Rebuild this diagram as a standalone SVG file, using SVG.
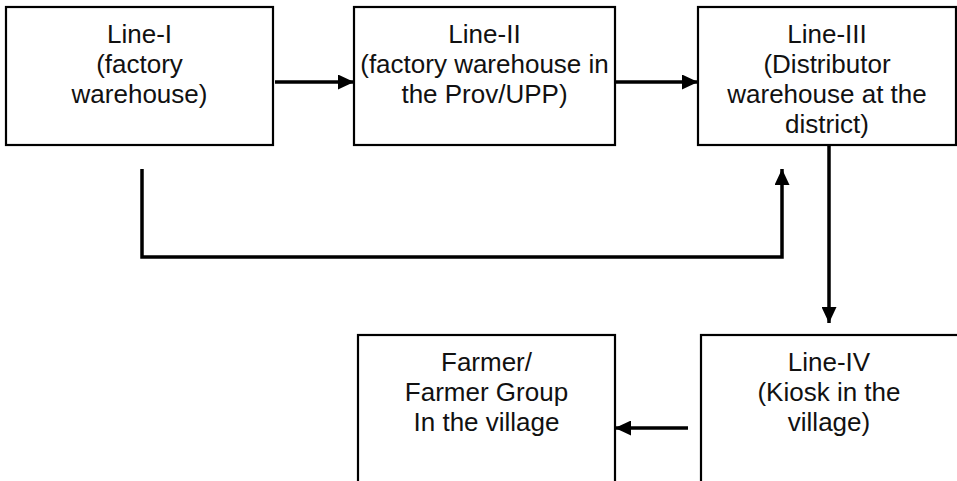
<svg xmlns="http://www.w3.org/2000/svg" width="957" height="481" viewBox="0 0 957 481">
<style>
.box{fill:#fff;stroke:#000;stroke-width:2.2}
.t{font-family:"Liberation Sans",Arial,sans-serif;font-size:26px;fill:#111;text-anchor:middle}
.c{fill:none;stroke:#000;stroke-width:3.5}
</style>
<defs>
<marker id="ah" markerUnits="userSpaceOnUse" markerWidth="16" markerHeight="15" refX="16" refY="7.5" orient="auto">
<path d="M0,0 L16,7.5 L0,15 z" fill="#000"/>
</marker>
</defs>
<rect width="957" height="481" fill="#fff"/>
<g id="connectors">
<line class="c" x1="275" y1="82" x2="354" y2="82" marker-end="url(#ah)"/>
<line class="c" x1="615" y1="82" x2="698" y2="82" marker-end="url(#ah)"/>
<polyline class="c" points="142,169 142,257 782,257 782,169" marker-end="url(#ah)"/>
<line class="c" x1="829" y1="145" x2="829" y2="323" marker-end="url(#ah)"/>
<line class="c" x1="688" y1="428" x2="615" y2="428" marker-end="url(#ah)"/>
</g>
<g id="line1">
<rect class="box" x="6" y="7" width="267" height="138"/>
<text class="t" x="139.5" y="43">Line-I</text>
<text class="t" x="139.5" y="73">(factory</text>
<text class="t" x="139.5" y="103">warehouse)</text>
</g>
<g id="line2">
<rect class="box" x="354" y="7" width="261" height="138"/>
<text class="t" x="484.5" y="43">Line-II</text>
<text class="t" x="484.5" y="73">(factory warehouse in</text>
<text class="t" x="484.5" y="103">the Prov/UPP)</text>
</g>
<g id="line3">
<rect class="box" x="698" y="7" width="258" height="138"/>
<text class="t" x="827" y="43">Line-III</text>
<text class="t" x="827" y="73">(Distributor</text>
<text class="t" x="827" y="103">warehouse at the</text>
<text class="t" x="827" y="133">district)</text>
</g>
<g id="line4">
<rect class="box" x="701" y="335" width="262" height="160"/>
<text class="t" x="829" y="371">Line-IV</text>
<text class="t" x="829" y="401">(Kiosk in the</text>
<text class="t" x="829" y="431">village)</text>
</g>
<g id="farmer">
<rect class="box" x="358" y="335" width="257" height="160"/>
<text class="t" x="486.5" y="371">Farmer/</text>
<text class="t" x="486.5" y="401">Farmer Group</text>
<text class="t" x="486.5" y="431">In the village</text>
</g>
</svg>
